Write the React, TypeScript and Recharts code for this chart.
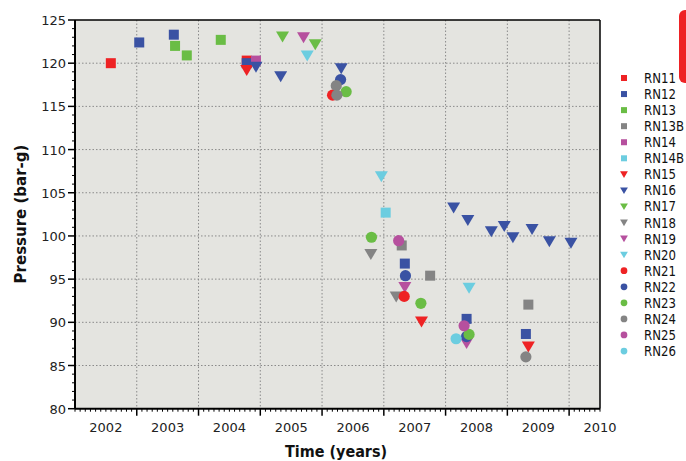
import React from "react";
import { CartesianGrid, ReferenceLine, Scatter, ScatterChart, XAxis, YAxis } from "recharts";

// [year, pressure] readings per well
const RN11 = [[2002.08, 120.0], [2004.28, 120.3]];
const RN12 = [[2002.54, 122.4], [2003.1, 123.3], [2004.28, 120.0], [2006.84, 96.8], [2007.84, 90.4], [2008.8, 88.65]];
const RN13 = [[2003.12, 122.0], [2003.31, 120.9], [2003.86, 122.7]];
const RN13B = [[2006.79, 98.9], [2007.25, 95.4], [2008.84, 92.05]];
const RN14 = [[2004.43, 120.3]];
const RN14B = [[2006.53, 102.7]];
const RN15 = [[2004.28, 119.2], [2007.11, 90.1], [2008.84, 87.2]];
const RN16 = [
    [2004.43, 119.6], [2004.83, 118.5], [2005.81, 119.4], [2007.63, 103.3], [2007.86, 101.85],
    [2008.24, 100.55], [2008.45, 101.15], [2008.59, 99.85], [2008.9, 100.8], [2009.18, 99.4], [2009.53, 99.2],
];
const RN17 = [[2004.86, 123.1], [2005.39, 122.2]];
const RN18 = [[2006.29, 97.9], [2006.7, 93.0]];
const RN19 = [[2005.2, 123.0], [2006.84, 94.1], [2007.84, 87.6]];
const RN20 = [[2005.26, 120.9], [2006.46, 106.9], [2007.88, 94.0]];
const RN21 = [[2005.67, 116.3], [2006.83, 93.0]];
const RN22 = [[2005.8, 118.1], [2006.85, 95.4], [2007.84, 88.35]];
const RN23 = [[2005.89, 116.7], [2006.3, 99.85], [2007.1, 92.2], [2007.88, 88.6]];
const RN24 = [[2005.73, 117.4], [2005.74, 116.3], [2008.8, 86.0]];
const RN25 = [[2006.74, 99.45], [2007.8, 89.6]];
const RN26 = [[2007.67, 88.1]];

const NAMES = ["RN11", "RN12", "RN13", "RN13B", "RN14", "RN14B", "RN15", "RN16", "RN17", "RN18", "RN19", "RN20", "RN21", "RN22", "RN23", "RN24", "RN25", "RN26"];
const POINTS = [RN11, RN12, RN13, RN13B, RN14, RN14B, RN15, RN16, RN17, RN18, RN19, RN20, RN21, RN22, RN23, RN24, RN25, RN26];
const YEAR_LABELS = [2002, 2003, 2004, 2005, 2006, 2007, 2008, 2009, 2010];
const Y_LABELS = [80, 85, 90, 95, 100, 105, 110, 115, 120, 125];

const RED = "#ee2224";
const BLUE = "#3a52a3";
const GREEN = "#6abd45";
const GREY = "#848484";
const MAGENTA = "#b6509e";
const CYAN = "#6ccde0";
const COLORS = [RED, BLUE, GREEN, GREY, MAGENTA, CYAN, RED, BLUE, GREEN, GREY, MAGENTA, CYAN, RED, BLUE, GREEN, GREY, MAGENTA, CYAN];
const SHAPES = ["sq", "sq", "sq", "sq", "sq", "sq", "tri", "tri", "tri", "tri", "tri", "tri", "dot", "dot", "dot", "dot", "dot", "dot"];

const FONT = "'DejaVu Sans', sans-serif";
const X0 = 2001.5;
const X1 = 2010;

// monthly minor ticks on x, unit minor ticks on y
const xTicks: number[] = [];
for (let k = 0; k <= 102; k++) xTicks.push(X0 + k / 12);
const yTicks: number[] = [];
for (let v = 80; v <= 125; v++) yTicks.push(v);
const gridX = YEAR_LABELS.slice(0, -1).map((y) => y + 0.5);
const gridY = Y_LABELS.slice(1, -1);

function Marker({ cx, cy, kind, color, s = 1 }: any) {
    if (kind === "sq") {
        const h = 5 * s;
        return <rect x={cx - h} y={cy - h} width={h * 2} height={h * 2} fill={color} />;
    }
    if (kind === "tri") {
        return (
            <polygon
                points={`${cx - 6.5 * s},${cy - 5 * s} ${cx + 6.5 * s},${cy - 5 * s} ${cx},${cy + 6 * s}`}
                fill={color}
            />
        );
    }
    return <circle cx={cx} cy={cy} r={5.6 * s} fill={color} />;
}

function XTick({ x, y, payload }: any) {
    const k = Math.round((payload.value - X0) * 12);
    const major = k % 12 === 0 && k > 0 && k < 102;
    const label = k % 12 === 6;
    return (
        <g>
            <line x1={x} x2={x} y1={y} y2={y + (major ? 7 : 3)} stroke="#000" strokeWidth={major ? 1.5 : 1} />
            {label && (
                <text x={x} y={y + 23} textAnchor="middle" fontSize={13} fontFamily={FONT} fill="#222">
                    {Math.round(payload.value)}
                </text>
            )}
        </g>
    );
}

function YTick({ x, y, payload }: any) {
    const v = Math.round(payload.value);
    const major = v % 5 === 0;
    return (
        <g>
            <line x1={x} x2={x - (major ? 7 : 3)} y1={y} y2={y} stroke="#000" strokeWidth={major ? 1.5 : 1} />
            {major && (
                <text x={x - 9} y={y + 5} textAnchor="end" fontSize={13} fontFamily={FONT} fill="#222">
                    {v}
                </text>
            )}
        </g>
    );
}

export default function App() {
    return (
        <div style={{ position: "absolute", left: 0, top: 0, width: 686, height: 461, background: "#fff", overflow: "hidden" }}>
            <ScatterChart width={686} height={461} margin={{ top: 20, right: 86, left: 0, bottom: 0 }}>
                <CartesianGrid
                    fill="#e4e4e0"
                    stroke="#8a8a8a"
                    strokeDasharray="1.5 2"
                    verticalValues={gridX}
                    horizontalValues={gridY}
                />
                <XAxis
                    type="number"
                    dataKey="x"
                    domain={[X0, X1]}
                    ticks={xTicks}
                    interval={0}
                    allowDataOverflow
                    tickSize={0}
                    tickMargin={0}
                    tickLine={false}
                    tick={<XTick />}
                    axisLine={{ stroke: "#000", strokeWidth: 2 }}
                    height={52.3}
                />
                <YAxis
                    type="number"
                    dataKey="y"
                    domain={[80, 125]}
                    ticks={yTicks}
                    interval={0}
                    allowDataOverflow
                    tickSize={0}
                    tickMargin={0}
                    tickLine={false}
                    tick={<YTick />}
                    axisLine={{ stroke: "#000", strokeWidth: 2 }}
                    width={75}
                />
                <ReferenceLine y={125} stroke="#000" strokeWidth={1.5} />
                <ReferenceLine x={X1} stroke="#000" strokeWidth={1.5} />
                {NAMES.map((name, i) => (
                    <Scatter
                        key={name}
                        name={name}
                        data={POINTS[i].map(([x, y]) => ({ x, y }))}
                        isAnimationActive={false}
                        shape={(p: any) => <Marker cx={p.cx} cy={p.cy} kind={SHAPES[i]} color={COLORS[i]} />}
                    />
                ))}
            </ScatterChart>
            <svg width={686} height={461} style={{ position: "absolute", left: 0, top: 0, pointerEvents: "none" }}>
                <text
                    transform="translate(26,214) rotate(-90)"
                    textAnchor="middle"
                    fontSize={15}
                    fontWeight="bold"
                    fontFamily={FONT}
                    fill="#111"
                >
                    Pressure (bar-g)
                </text>
                <g transform="translate(336,457) scale(0.9,1)">
                    <text x={0} y={0} textAnchor="middle" fontSize={16} fontWeight="bold" fontFamily={FONT} fill="#111">
                        Time (years)
                    </text>
                </g>
                {NAMES.map((name, i) => (
                    <g key={name}>
                        <Marker cx={624} cy={78 + i * 16.06} kind={SHAPES[i]} color={COLORS[i]} s={0.6} />
                        <g transform={`translate(644,${78 + i * 16.06 + 5}) scale(0.84,1)`}>
                            <text x={0} y={0} fontSize={14} fontFamily={FONT} fill="#111">
                                {name}
                            </text>
                        </g>
                    </g>
                ))}
            </svg>
            <div
                style={{
                    position: "absolute",
                    left: 679,
                    top: 10,
                    width: 20,
                    height: 73,
                    background: RED,
                    borderRadius: 6,
                }}
            />
        </div>
    );
}
